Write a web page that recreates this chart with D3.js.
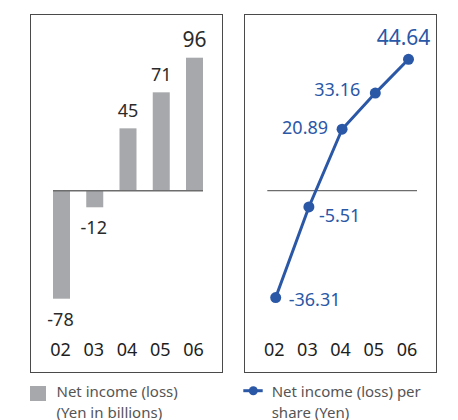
<!DOCTYPE html>
<html>
<head>
<meta charset="utf-8">
<script src="https://cdn.jsdelivr.net/npm/d3@7"></script>
<style>
  html, body { margin: 0; padding: 0; background: #fff; }
  svg { display: block; font-family: "Noto Sans", "Open Sans", sans-serif; }
</style>
</head>
<body>
<svg class="chart" width="458" height="420"></svg>
<script>
// data
var years = ['02', '03', '04', '05', '06'];
var netIncome = [-78, -12, 45, 71, 96];              // Yen in billions
var perShare = [-36.31, -5.51, 20.89, 33.16, 44.64];  // Yen
var perShareLabels = ['-36.31', '-5.51', '20.89', '33.16', '44.64'];
var legendBars = ['Net income (loss)', '(Yen in billions)'];
var legendLine = ['Net income (loss) per', 'share (Yen)'];

(function() {
  'use strict';

  var barColor = '#a7a8ab';
  var blue = '#2b57a7';
  var frameColor = '#4a4a4a';
  var axisY = 356;

  var svg = d3.select('.chart');

  // ---------- left panel: bars ----------
  var left = svg.append('g');

  left.append('rect')
    .attr('x', 30.5).attr('y', 14.5)
    .attr('width', 192).attr('height', 358)
    .attr('fill', 'none')
    .attr('stroke', frameColor);

  var xL = d3.scalePoint()
    .domain(years)
    .range([61.5, 194.5]);

  var yL = d3.scaleLinear()
    .domain([-78, 96])
    .range([298.7, 57.7]);

  var barWidth = 17;

  left.selectAll('rect.bar')
    .data(netIncome)
    .enter().append('rect')
      .attr('class', 'bar')
      .attr('x', function(d, i) { return xL(years[i]) - barWidth / 2; })
      .attr('y', function(d) { return d >= 0 ? yL(d) : yL(0); })
      .attr('width', barWidth)
      .attr('height', function(d) { return Math.abs(yL(d) - yL(0)); })
      .attr('fill', barColor);

  left.append('line')
    .attr('x1', xL(years[0]) - barWidth / 2)
    .attr('x2', xL(years[years.length - 1]) + barWidth / 2)
    .attr('y1', yL(0)).attr('y2', yL(0))
    .attr('stroke', '#6d6d6d')
    .attr('stroke-width', 1.5);

  left.selectAll('text.val')
    .data(netIncome)
    .enter().append('text')
      .attr('class', 'val')
      .attr('x', function(d, i) { return xL(years[i]) - (d < 0 ? 1 : 0); })
      .attr('y', function(d) { return d >= 0 ? yL(d) - 11 : yL(d) + 27; })
      .attr('text-anchor', 'middle')
      .attr('fill', '#2b2b2b')
      .attr('font-size', function(d, i) { return i === netIncome.length - 1 ? 21 : 18; })
      .text(function(d) { return d; });

  left.selectAll('text.year')
    .data(years)
    .enter().append('text')
      .attr('class', 'year')
      .attr('x', function(d) { return xL(d) - 1; })
      .attr('y', axisY)
      .attr('text-anchor', 'middle')
      .attr('fill', '#1e1e1e')
      .attr('font-size', 18)
      .text(function(d) { return d; });

  // ---------- right panel: line ----------
  var right = svg.append('g');

  right.append('rect')
    .attr('x', 244.5).attr('y', 14.5)
    .attr('width', 192).attr('height', 358)
    .attr('fill', 'none')
    .attr('stroke', frameColor);

  var xR = d3.scalePoint()
    .domain(years)
    .range([275.7, 408.5]);

  var yR = d3.scaleLinear()
    .domain([-36.31, 44.64])
    .range([297.6, 59.3]);

  right.append('line')
    .attr('x1', 267.3).attr('x2', 417)
    .attr('y1', yR(0)).attr('y2', yR(0))
    .attr('stroke', '#6d6d6d')
    .attr('stroke-width', 1.2);

  var line = d3.line()
    .x(function(d, i) { return xR(years[i]); })
    .y(function(d) { return yR(d); });

  right.append('path')
    .datum(perShare)
    .attr('d', line)
    .attr('fill', 'none')
    .attr('stroke', blue)
    .attr('stroke-width', 3);

  right.selectAll('circle')
    .data(perShare)
    .enter().append('circle')
      .attr('cx', function(d, i) { return xR(years[i]); })
      .attr('cy', function(d) { return yR(d); })
      .attr('r', 5.5)
      .attr('fill', blue);

  // label placement around each point
  var place = [
    { dx: 13, dy: 8.5, anchor: 'start', size: 18 },
    { dx: 10, dy: 15, anchor: 'start', size: 18 },
    { dx: -14, dy: 4.5, anchor: 'end', size: 18 },
    { dx: -15, dy: 3, anchor: 'end', size: 18 },
    { dx: -5, dy: -14, anchor: 'middle', size: 21 }
  ];

  right.selectAll('text.val')
    .data(perShare)
    .enter().append('text')
      .attr('class', 'val')
      .attr('x', function(d, i) { return xR(years[i]) + place[i].dx; })
      .attr('y', function(d, i) { return yR(d) + place[i].dy; })
      .attr('text-anchor', function(d, i) { return place[i].anchor; })
      .attr('font-size', function(d, i) { return place[i].size; })
      .attr('fill', blue)
      .text(function(d, i) { return perShareLabels[i]; });

  right.selectAll('text.year')
    .data(years)
    .enter().append('text')
      .attr('class', 'year')
      .attr('x', function(d) { return xR(d) - 1.5; })
      .attr('y', axisY)
      .attr('text-anchor', 'middle')
      .attr('fill', '#1e1e1e')
      .attr('font-size', 18)
      .text(function(d) { return d; });

  // ---------- legends ----------
  var legend = svg.append('g');

  legend.append('rect')
    .attr('x', 30).attr('y', 386)
    .attr('width', 16).attr('height', 15)
    .attr('fill', barColor);

  legend.selectAll('text.lb')
    .data(legendBars)
    .enter().append('text')
      .attr('class', 'lb')
      .attr('x', 56.5)
      .attr('y', function(d, i) { return 397.3 + i * 21; })
      .attr('font-size', 15)
      .attr('fill', '#555')
      .text(function(d) { return d; });

  legend.append('line')
    .attr('x1', 243.3).attr('x2', 262.7)
    .attr('y1', 390.7).attr('y2', 390.7)
    .attr('stroke', blue)
    .attr('stroke-width', 3);

  legend.append('circle')
    .attr('cx', 253.3).attr('cy', 390.7)
    .attr('r', 4.5)
    .attr('fill', blue);

  legend.selectAll('text.ll')
    .data(legendLine)
    .enter().append('text')
      .attr('class', 'll')
      .attr('x', 271.7)
      .attr('y', function(d, i) { return 397.3 + i * 21; })
      .attr('font-size', 15)
      .attr('fill', '#555')
      .text(function(d) { return d; });
}());
</script>
</body>
</html>
